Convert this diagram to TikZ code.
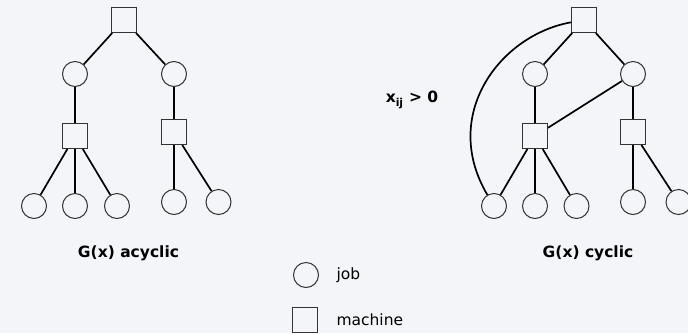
\documentclass[tikz,border=0pt]{standalone}
\usepackage{fontspec}
\setmainfont{DejaVu Sans}
\definecolor{bgcol}{RGB}{243,245,248}

\begin{document}
\begin{tikzpicture}[x=1pt,y=-1pt,
        job/.style={circle,draw=black!80,line width=1pt,minimum size=25pt,inner sep=0pt},
        machine/.style={rectangle,draw=black!80,line width=1pt,minimum size=25pt,inner sep=0pt},
        link/.style={black,line width=1.7pt},
        caption/.style={font=\fontsize{15.5}{18}\selectfont\bfseries},
        legend/.style={font=\fontsize{15.5}{18}\selectfont,anchor=west}]
        \fill [bgcol] (0,0) rectangle (688,333);
        \useasboundingbox (0,0) rectangle (688,333);
        \node [machine] (am0) at (124,20) {};
        \node [job] (aj1) at (75,74) {};
        \node [job] (aj2) at (174,74) {};
        \node [machine] (am1) at (75,136) {};
        \node [machine] (am2) at (174,132) {};
        \node [job] (aj3) at (34,206) {};
        \node [job] (aj4) at (75,206) {};
        \node [job] (aj5) at (117,206) {};
        \node [job] (aj6) at (174,202) {};
        \node [job] (aj7) at (218.5,202) {};
        \draw [link] (am0) -- (aj1);
        \draw [link] (am0) -- (aj2);
        \draw [link] (aj1) -- (am1);
        \draw [link] (aj2) -- (am2);
        \draw [link] (am1) -- (aj3);
        \draw [link] (am1) -- (aj4);
        \draw [link] (am1) -- (aj5);
        \draw [link] (am2) -- (aj6);
        \draw [link] (am2) -- (aj7);
        \node [caption] (acap) at (128.5,253) {G(x) acyclic};
        \node [machine] (bm0) at (584,20) {};
        \node [job] (bj1) at (535,74) {};
        \node [job] (bj2) at (633,74) {};
        \node [machine] (bm1) at (535,136) {};
        \node [machine] (bm2) at (633,132) {};
        \node [job] (bj3) at (494,206) {};
        \node [job] (bj4) at (535,206) {};
        \node [job] (bj5) at (576.5,206) {};
        \node [job] (bj6) at (633,202) {};
        \node [job] (bj7) at (678.5,202) {};
        \draw [link] (bm0) -- (bj1);
        \draw [link] (bm0) -- (bj2);
        \draw [link] (bj1) -- (bm1);
        \draw [link] (bj2) -- (bm2);
        \draw [link] (bm1) -- (bj3);
        \draw [link] (bm1) -- (bj4);
        \draw [link] (bm1) -- (bj5);
        \draw [link] (bm2) -- (bj6);
        \draw [link] (bm2) -- (bj7);
        \draw [link] (bj2) -- (bm1);
        \draw [link] (bm0) .. controls +(-84,15) and +(-54,-91) .. (bj3);
        \node [caption] (bcap) at (588,253) {G(x) cyclic};
        \node [caption] (flow) at (412,100) {x\textsubscript{ij} > 0};
        \node [job] (lj) at (306,275) {};
        \node [legend] (ljtext) at (333,275) {job};
        \node [machine] (lm) at (305,320) {};
        \node [legend] (lmtext) at (333,320) {machine};
\end{tikzpicture}
\end{document}
